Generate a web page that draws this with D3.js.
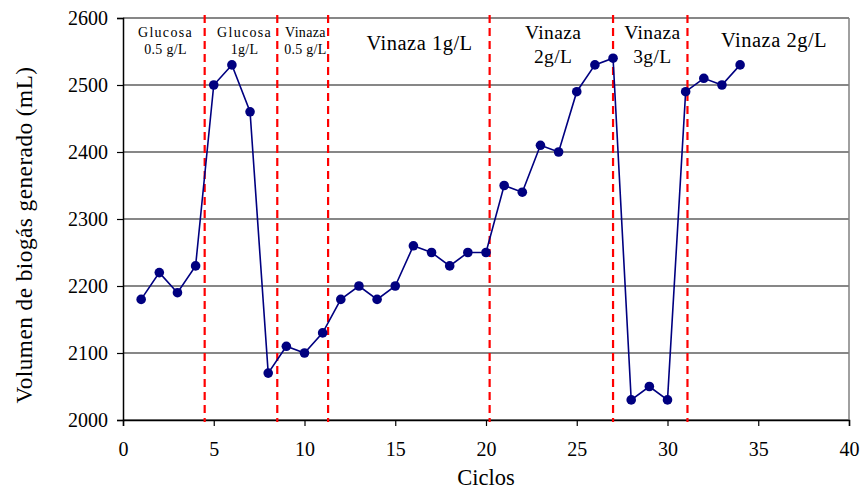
<!DOCTYPE html>
<html>
<head>
<meta charset="utf-8">
<script src="https://cdn.jsdelivr.net/npm/d3@7"></script>
<style>
  html, body { margin: 0; padding: 0; background: #fff; }
  svg text { font-family: "Liberation Serif", "DejaVu Serif", serif; fill: #000; }
</style>
</head>
<body>
<svg id="chart" width="862" height="491"></svg>
<script>
// Biogas volume per cycle
const ciclos = d3.range(1, 35);
const volumen = [2180, 2220, 2190, 2230, 2500, 2530, 2460, 2070, 2110, 2100,
                 2130, 2180, 2200, 2180, 2200, 2260, 2250, 2230, 2250, 2250,
                 2350, 2340, 2410, 2400, 2490, 2530, 2540, 2030, 2050, 2030,
                 2490, 2510, 2500, 2530];

// Cycle positions where the feed changes
const cambios = [4.5, 8.5, 11.3, 20.2, 27, 31.1];

// Feed labels: lines of text, centre cycle, and size class
const etiquetas = [
  { lines: ["Glucosa", "0.5 g/L"], x: 2.34, size: "small" },
  { lines: ["Glucosa", "1g/L"], x: 6.7, size: "small" },
  { lines: ["Vinaza", "0.5 g/L"], x: 10.05, size: "small" },
  { lines: ["Vinaza 1g/L"], x: 16.34, size: "big1" },
  { lines: ["Vinaza", "2g/L"], x: 23.7, size: "big2" },
  { lines: ["Vinaza", "3g/L"], x: 29.17, size: "big2" },
  { lines: ["Vinaza 2g/L"], x: 35.87, size: "big3" }
];

const xTicks = d3.range(0, 41, 5);
const yTicks = d3.range(2000, 2601, 100);

const svg = d3.select("#chart");
const m = { left: 123, right: 849, top: 18, bottom: 420 };

const x = d3.scaleLinear().domain([0, 40]).range([m.left, m.right]);
const y = d3.scaleLinear().domain([2000, 2600]).range([m.bottom, m.top]);

// Horizontal gridlines
svg.append("g")
  .selectAll("line")
  .data(yTicks)
  .join("line")
  .attr("x1", m.left).attr("x2", m.right)
  .attr("y1", d => y(d)).attr("y2", d => y(d))
  .attr("stroke", "#111").attr("stroke-width", 1.2);

// Right frame
svg.append("line")
  .attr("x1", m.right).attr("x2", m.right)
  .attr("y1", m.top).attr("y2", m.bottom)
  .attr("stroke", "#808080").attr("stroke-width", 1.5);

// Axes
const xAxis = svg.append("g")
  .attr("transform", `translate(0,${m.bottom})`)
  .call(d3.axisBottom(x).tickValues(xTicks).tickSize(6).tickPadding(16));
const yAxis = svg.append("g")
  .attr("transform", `translate(${m.left},0)`)
  .call(d3.axisLeft(y).tickValues(yTicks).tickSize(6).tickPadding(9).tickFormat(d3.format("d")));

[xAxis, yAxis].forEach(g => {
  g.select(".domain").attr("stroke", "#000").attr("stroke-width", 1.5);
  g.selectAll(".tick line").attr("stroke", "#000").attr("stroke-width", 1.2);
  g.selectAll(".tick text")
    .attr("font-family", "Liberation Serif, DejaVu Serif, serif")
    .attr("font-size", 20).attr("fill", "#000");
});
yAxis.selectAll(".tick text").attr("dy", "0.33em");

// Feed-change markers
svg.append("g")
  .selectAll("line")
  .data(cambios)
  .join("line")
  .attr("x1", d => x(d)).attr("x2", d => x(d))
  .attr("y1", 15).attr("y2", 422)
  .attr("stroke", "#ff0000").attr("stroke-width", 2.2)
  .attr("stroke-dasharray", "8,5");

// Series line
const linea = d3.line().x((d, i) => x(ciclos[i])).y(d => y(d));
svg.append("path")
  .datum(volumen)
  .attr("d", linea)
  .attr("fill", "none")
  .attr("stroke", "#000080")
  .attr("stroke-width", 1.6);

svg.append("g")
  .selectAll("circle")
  .data(volumen)
  .join("circle")
  .attr("cx", (d, i) => x(ciclos[i]))
  .attr("cy", d => y(d))
  .attr("r", 4.8)
  .attr("fill", "#000080");

// Feed labels
const estilos = {
  small: { size: 14, y0: 37, dy: 17, spacing: 0.3 },
  big1:  { size: 20.5, y0: 50, dy: 0, spacing: 0.5 },
  big3:  { size: 20.5, y0: 47, dy: 0, spacing: 0.5 },
  big2:  { size: 19.5, y0: 39, dy: 24, spacing: 0.4 }
};
etiquetas.forEach(e => {
  const s = estilos[e.size];
  e.lines.forEach((t, k) => {
    svg.append("text")
      .attr("x", x(e.x))
      .attr("y", s.y0 + k * s.dy)
      .attr("text-anchor", "middle")
      .attr("font-size", s.size)
      .attr("letter-spacing", (k === 0 && t === "Glucosa") ? 1.3 : s.spacing)
      .text(t);
  });
});

// Axis titles
svg.append("text")
  .attr("x", x(20)).attr("y", 485)
  .attr("text-anchor", "middle")
  .attr("font-size", 22.5)
  .text("Ciclos");

svg.append("text")
  .attr("transform", `translate(32,235) rotate(-90)`)
  .attr("text-anchor", "middle")
  .attr("font-size", 23.2)
  .attr("letter-spacing", 0.5)
  .text("Volumen de biogás generado (mL)");
</script>
</body>
</html>
